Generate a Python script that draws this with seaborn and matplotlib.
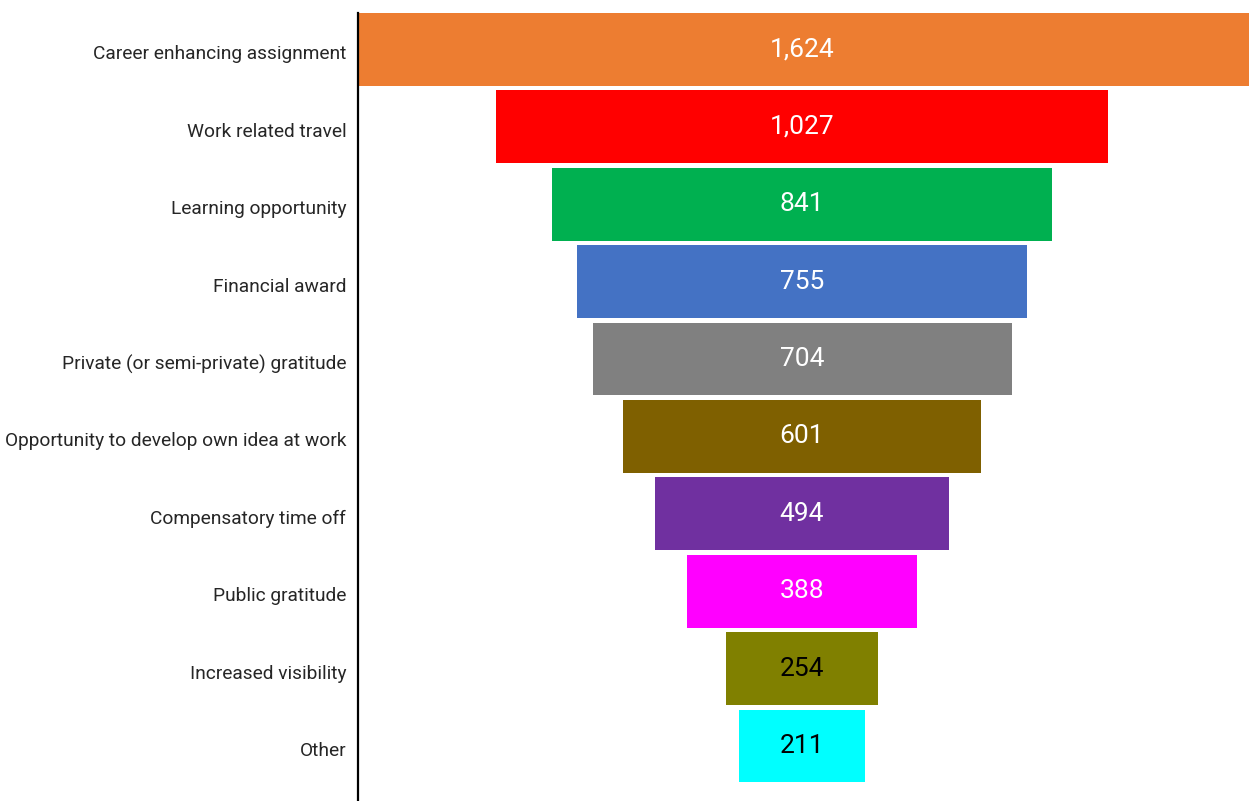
import matplotlib
matplotlib.use("Agg")
import matplotlib.pyplot as plt
import matplotlib.transforms as mtransforms
import seaborn as sns
import pandas as pd

categories = ["Career enhancing assignment", "Work related travel", "Learning opportunity",
              "Financial award", "Private (or semi-private) gratitude",
              "Opportunity to develop own idea at work", "Compensatory time off",
              "Public gratitude", "Increased visibility", "Other"]
values = [1624, 1027, 841, 755, 704, 601, 494, 388, 254, 211]
colors = ["#ED7D31", "#FF0000", "#00B050", "#4472C4", "#808080",
          "#7F6000", "#7030A0", "#FF00FF", "#808000", "#00FFFF"]
text_colors = ["white"] * 8 + ["black"] * 2

sns.set_style("white")
plt.rcParams["font.family"] = ["Roboto", "DejaVu Sans"]

df = pd.DataFrame({"category": categories, "value": values})

fig = plt.figure(figsize=(12.49, 8.01), dpi=100)
ax = fig.add_axes([358 / 1249, 0, 1 - 358 / 1249, (801 - 13) / 801])

sns.barplot(data=df, y="category", x="value", hue="category", palette=colors,
            order=categories, hue_order=categories, orient="h", width=0.94,
            legend=False, ax=ax, linewidth=0, saturation=1)

for p, v, tc in zip(ax.patches, values, text_colors):
    w = p.get_width()
    p.set_x(-w / 2)
    ax.text(0, p.get_y() + p.get_height() / 2, f"{v:,}", ha="center", va="center",
            color=tc, fontsize=19)

ax.set_xlim(-746, 751)
ax.set_ylim(9.71, -0.47)
ax.set_xlabel("")
ax.set_ylabel("")
ax.set_xticks([])
ax.tick_params(axis="y", length=0, pad=8.5, labelsize=13.8, labelcolor="#262626")
offset = mtransforms.ScaledTranslation(0, -3 / 100, fig.dpi_scale_trans)
for lbl in ax.get_yticklabels():
    lbl.set_transform(lbl.get_transform() + offset)
for s in ["top", "right", "bottom"]:
    ax.spines[s].set_visible(False)
ax.spines["left"].set_color("black")
ax.spines["left"].set_linewidth(1.6)

fig.savefig("out.png", dpi=100)
